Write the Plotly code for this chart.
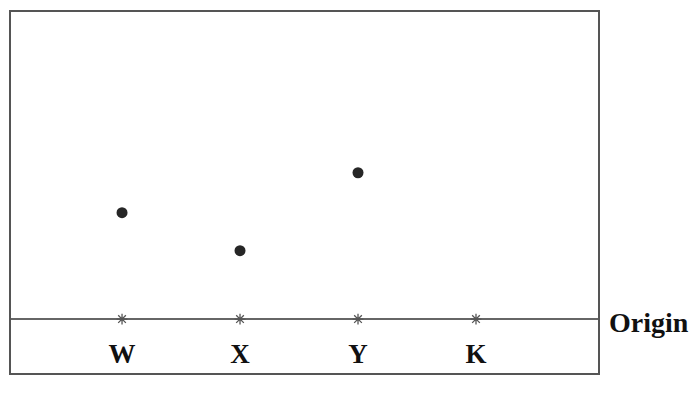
import plotly.graph_objects as go

categories = ["W", "X", "Y", "K"]
positions = [1, 2, 3, 4]
dot_cats = ["W", "X", "Y"]
dot_values = [2.8, 1.8, 3.85]

LABEL_LEVEL = -0.98
pos_map = dict(zip(categories, positions))

fig = go.Figure()
# star ticks on the origin line
fig.add_trace(go.Scatter(
    x=positions, y=[0] * len(positions), mode="markers",
    marker=dict(symbol="asterisk-open", size=9, color="#555",
                line=dict(color="#555", width=1.3)),
    hoverinfo="skip", showlegend=False))
# data dots
fig.add_trace(go.Scatter(
    x=[pos_map[c] for c in dot_cats], y=dot_values, mode="markers",
    marker=dict(size=11, color="#262626"),
    showlegend=False))
# category labels
fig.add_trace(go.Scatter(
    x=positions, y=[LABEL_LEVEL] * len(positions), mode="text",
    text=["<b>%s</b>" % c for c in categories],
    textfont=dict(family="Liberation Serif", size=27, color="#111"),
    hoverinfo="skip", showlegend=False))

fig.add_annotation(
    xref="paper", yref="y", x=1, y=0, xanchor="left", yanchor="middle",
    xshift=9, yshift=-3, showarrow=False, text="<b>Origin</b>",
    font=dict(family="Liberation Serif", size=28, color="#111"))

fig.update_layout(
    width=699, height=410,
    margin=dict(l=11, r=101, t=12, b=37),
    paper_bgcolor="white", plot_bgcolor="white",
    xaxis=dict(range=[0.059, 5.034], showgrid=False, zeroline=False,
               showticklabels=False, ticks="", showline=True, mirror=True,
               linecolor="#555", linewidth=1.5),
    yaxis=dict(range=[-1.42, 8.08], showgrid=False, zeroline=True,
               zerolinecolor="#666", zerolinewidth=1.5,
               showticklabels=False, ticks="", showline=True, mirror=True,
               linecolor="#555", linewidth=1.5),
)

fig.write_html("out.html", config={"displayModeBar": False},
               post_script="document.body.style.margin='0';")
